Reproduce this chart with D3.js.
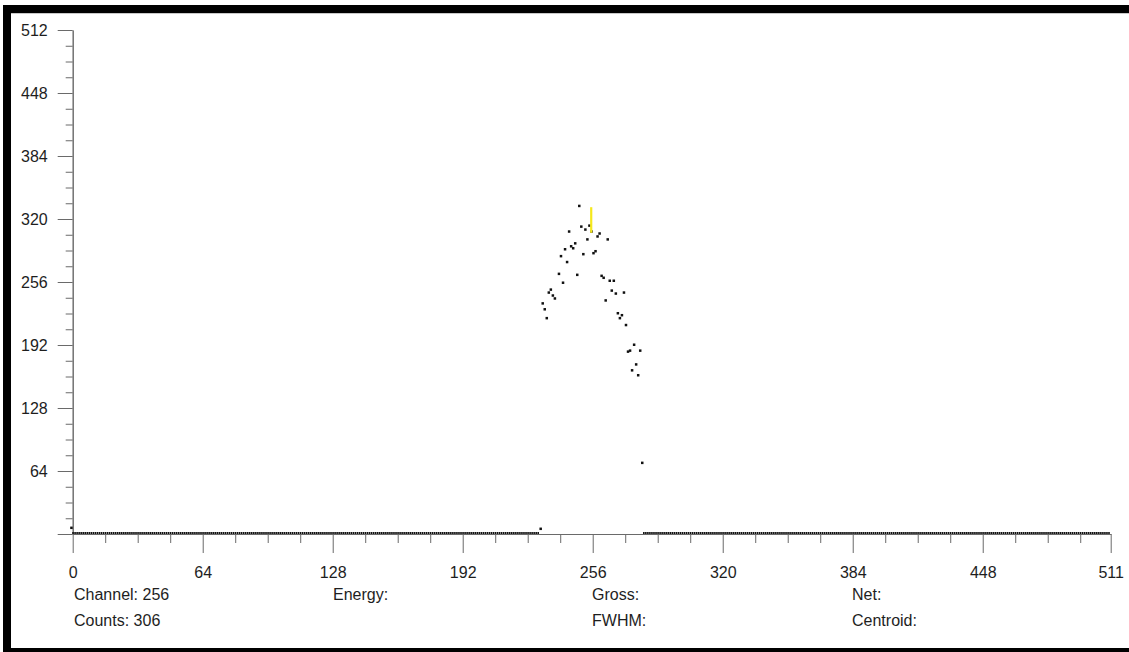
<!DOCTYPE html>
<html>
<head>
<meta charset="utf-8">
<script src="https://cdn.jsdelivr.net/npm/d3@7"></script>
<style>
  html, body { margin: 0; padding: 0; background: #fff; }
  svg { display: block; }
  text { font-family: "Liberation Sans", Arial, sans-serif; }
</style>
</head>
<body>
<svg id="chart" width="1129" height="652"></svg>
<script>
// Spectrum: channels 0..511, counts per channel

// Channels with non-zero counts
const peakChannels = [
  0, 231,
  232, 233, 234, 235, 236, 237, 238, 240, 241, 242, 243, 244, 245, 246,
  247, 248, 249, 250, 251, 252, 253, 254, 255, 256, 257, 258, 259, 260,
  261, 262, 263, 264, 265, 266, 267, 268, 269, 270, 271, 272, 273, 274,
  275, 276, 277, 278, 279, 280, 281
];
const peakCounts = [
  5, 4,
  233, 227, 218, 244, 247, 241, 238, 263, 281, 254, 288, 275, 306, 291,
  289, 294, 262, 332, 311, 283, 308, 298, 312, 306, 284, 286, 301, 304,
  261, 259, 236, 298, 256, 246, 256, 243, 223, 218, 221, 244, 211, 184,
  185, 165, 191, 171, 160, 185, 71
];
// Channel ranges that read zero counts
const zeroRanges = [[1, 230], [282, 511]];

// Axis ticks
const xMajorTicks = [0, 64, 128, 192, 256, 320, 384, 448, 511];
const yMajorTicks = [0, 64, 128, 192, 256, 320, 384, 448, 512];
const minorStep = 16;

// Cursor and readout
const cursorChannel = 256;
const cursorCounts = 306;
const cursorTop = 332;
const readoutLabels = [
  ["Channel: 256", "Counts: 306"],
  ["Energy:", ""],
  ["Gross:", "FWHM:"],
  ["Net:", "Centroid:"]
];

const svg = d3.select("#chart");

// Frame
svg.append("rect").attr("x", 3).attr("y", 5).attr("width", 1126).attr("height", 8).attr("fill", "#000");
svg.append("rect").attr("x", 3).attr("y", 13).attr("width", 1126).attr("height", 1).attr("fill", "#c8c8c8");
svg.append("rect").attr("x", 3).attr("y", 5).attr("width", 8).attr("height", 647).attr("fill", "#000");
svg.append("rect").attr("x", 3).attr("y", 648).attr("width", 1126).attr("height", 4).attr("fill", "#000");

const x = d3.scaleLinear().domain([0, 511]).range([72.7, 1110.7]);
const y = d3.scaleLinear().domain([0, 512]).range([534, 30]);

const axisColor = "#6a6a6a";
const labelColor = "#1e1e1e";

// Minor ticks
const xMinor = d3.range(0, 512, minorStep).filter(v => !xMajorTicks.includes(v));
const yMinor = d3.range(0, 513, minorStep).filter(v => !yMajorTicks.includes(v));

const gxMinor = svg.append("g").attr("transform", `translate(0,${y(0)})`)
  .call(d3.axisBottom(x).tickValues(xMinor).tickSize(9).tickSizeOuter(0).tickFormat(""));
const gyMinor = svg.append("g").attr("transform", `translate(${x(0)},0)`)
  .call(d3.axisLeft(y).tickValues(yMinor).tickSize(7).tickSizeOuter(0).tickFormat(""));

// Major ticks with labels
const gx = svg.append("g").attr("transform", `translate(0,${y(0)})`)
  .call(d3.axisBottom(x).tickValues(xMajorTicks).tickSize(19).tickSizeOuter(0).tickPadding(14).tickFormat(d3.format("d")));
const gy = svg.append("g").attr("transform", `translate(${x(0)},0)`)
  .call(d3.axisLeft(y).tickValues(yMajorTicks).tickSize(15).tickSizeOuter(0).tickPadding(10)
    .tickFormat(d => d === 0 ? "" : d3.format("d")(d)));

[gx, gy, gxMinor, gyMinor].forEach(g => {
  g.selectAll(".domain").attr("stroke", axisColor).attr("stroke-width", 1);
  g.selectAll(".tick line").attr("stroke", axisColor).attr("stroke-width", 1);
  g.selectAll(".tick text").attr("fill", labelColor).attr("font-size", 16)
    .attr("font-family", "'Liberation Sans', Arial, sans-serif");
});

// Build the point list
const points = [];
zeroRanges.forEach(([a, b]) => {
  for (let c = a; c <= b; c++) points.push({ ch: c, n: 0 });
});
peakChannels.forEach((c, i) => points.push({ ch: c, n: peakCounts[i] }));

// Channel dots
svg.append("g").selectAll("rect")
  .data(points)
  .join("rect")
  .attr("x", d => x(d.ch) - 2.5)
  .attr("y", d => y(d.n) - (d.n === 0 ? 2 : 2.5))
  .attr("width", d => d.n === 0 ? 1.6 : 2.5)
  .attr("height", d => d.n === 0 ? 2 : 2.5)
  .attr("fill", "#111");

// Cursor marker
svg.append("line")
  .attr("x1", x(cursorChannel) - 1.5).attr("x2", x(cursorChannel) - 1.5)
  .attr("y1", y(cursorCounts)).attr("y2", y(cursorTop))
  .attr("stroke", "#f5e81c").attr("stroke-width", 2.2);

// Readout text
const colX = [74, 333, 592, 852];
const rowY = [600, 626];
readoutLabels.forEach((col, i) => {
  col.forEach((t, j) => {
    if (!t) return;
    svg.append("text")
      .attr("x", colX[i]).attr("y", rowY[j])
      .attr("font-size", 16).attr("fill", labelColor)
      .text(t);
  });
});
</script>
</body>
</html>
